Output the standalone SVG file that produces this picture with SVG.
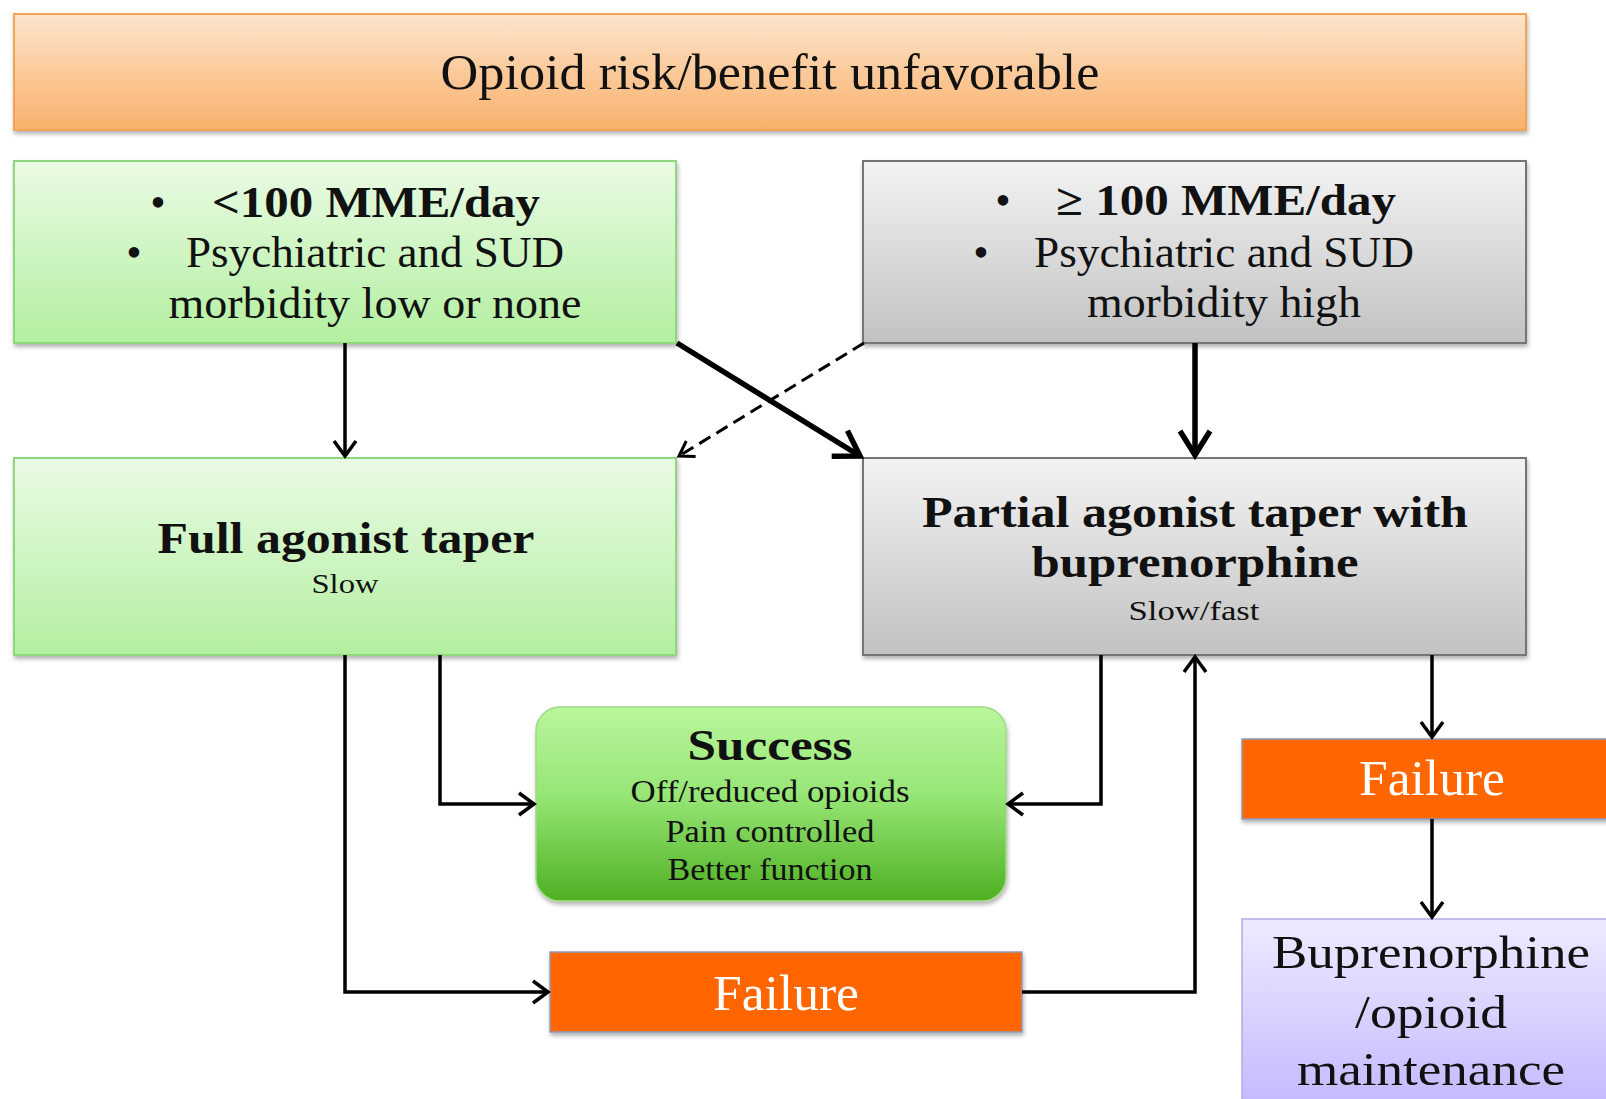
<svg xmlns="http://www.w3.org/2000/svg" width="1606" height="1099" viewBox="0 0 1606 1099">
<defs>
<linearGradient id="gOrange" x1="0" y1="0" x2="0" y2="1"><stop offset="0" stop-color="#fde4cc"/><stop offset="1" stop-color="#f9b06a"/></linearGradient>
<linearGradient id="gGreen" x1="0" y1="0" x2="0" y2="1"><stop offset="0" stop-color="#eafbe5"/><stop offset="1" stop-color="#b3efa0"/></linearGradient>
<linearGradient id="gGrey" x1="0" y1="0" x2="0" y2="1"><stop offset="0" stop-color="#f3f3f3"/><stop offset="1" stop-color="#c2c2c2"/></linearGradient>
<linearGradient id="gSuccess" x1="0" y1="0" x2="0" y2="1"><stop offset="0" stop-color="#b9f69c"/><stop offset="0.45" stop-color="#97e676"/><stop offset="1" stop-color="#4eb022"/></linearGradient>
<linearGradient id="gPurple" x1="0" y1="0" x2="0" y2="1"><stop offset="0" stop-color="#eeebff"/><stop offset="1" stop-color="#c0b6ff"/></linearGradient>
<filter id="shadow" x="-5%" y="-5%" width="115%" height="120%"><feDropShadow dx="1" dy="3" stdDeviation="2" flood-color="#000" flood-opacity="0.3"/></filter>
<marker id="ah" markerUnits="userSpaceOnUse" markerWidth="40" markerHeight="40" viewBox="-30 -20 40 40" refX="0" refY="0" orient="auto" overflow="visible">
<path d="M-15,-11 L0,0 L-15,11" fill="none" stroke="#000" stroke-width="3.5"/>
</marker>
<marker id="ahThick" markerUnits="userSpaceOnUse" markerWidth="60" markerHeight="60" viewBox="-40 -30 60 60" refX="0" refY="0" orient="auto" overflow="visible">
<path d="M-24,-15 L0,0 L-24,15" fill="none" stroke="#000" stroke-width="5.5"/>
</marker>
<marker id="ahDash" markerUnits="userSpaceOnUse" markerWidth="40" markerHeight="40" viewBox="-30 -20 40 40" refX="0" refY="0" orient="auto" overflow="visible">
<path d="M-14,-9 L0,0 L-14,9" fill="none" stroke="#000" stroke-width="3"/>
</marker>
</defs>
<style>
text{font-family:"Liberation Serif","DejaVu Serif",serif;fill:#111;text-anchor:middle}
.b{font-weight:bold}
.ban{font-size:50px}
.big{font-size:46px}
.mid{font-size:44px}
.sm{font-size:28px}
.sx{font-size:32px}
.fw{fill:#fff;font-size:50px}
.conn{fill:none;stroke:#000;stroke-width:3.5}
.thick{stroke-width:5.5}
.dash{stroke-width:3;stroke-dasharray:13 7}
</style>
<rect width="1606" height="1099" fill="#fff"/>

<g id="n-banner">
<rect x="14" y="14" width="1512" height="116" fill="url(#gOrange)" stroke="#f3a556" stroke-width="2" filter="url(#shadow)"/>
<text x="770" y="89" class="ban" textLength="659" lengthAdjust="spacingAndGlyphs">Opioid risk/benefit unfavorable</text>
</g>

<g id="n-low">
<rect x="14" y="161" width="662" height="182" fill="url(#gGreen)" stroke="#8fd77b" stroke-width="2" filter="url(#shadow)"/>
<text x="158" y="217" class="mid">•</text>
<text x="376" y="217" class="mid b" textLength="328" lengthAdjust="spacingAndGlyphs">&lt;100 MME/day</text>
<text x="134" y="267" class="mid">•</text>
<text x="375" y="267" class="mid" textLength="378" lengthAdjust="spacingAndGlyphs">Psychiatric and SUD</text>
<text x="375" y="318" class="mid" textLength="413" lengthAdjust="spacingAndGlyphs">morbidity low or none</text>
</g>

<g id="n-high">
<rect x="863" y="161" width="663" height="182" fill="url(#gGrey)" stroke="#757575" stroke-width="2" filter="url(#shadow)"/>
<text x="1003" y="215" class="mid">•</text>
<text x="1226" y="215" class="mid b" textLength="340" lengthAdjust="spacingAndGlyphs">≥ 100 MME/day</text>
<text x="981" y="267" class="mid">•</text>
<text x="1224" y="267" class="mid" textLength="380" lengthAdjust="spacingAndGlyphs">Psychiatric and SUD</text>
<text x="1224" y="317" class="mid" textLength="274" lengthAdjust="spacingAndGlyphs">morbidity high</text>
</g>

<g id="n-full">
<rect x="14" y="458" width="662" height="197" fill="url(#gGreen)" stroke="#8fd77b" stroke-width="2" filter="url(#shadow)"/>
<text x="346" y="553" class="mid b" textLength="377" lengthAdjust="spacingAndGlyphs">Full agonist taper</text>
<text x="345" y="593" class="sm" textLength="67" lengthAdjust="spacingAndGlyphs">Slow</text>
</g>

<g id="n-partial">
<rect x="863" y="458" width="663" height="197" fill="url(#gGrey)" stroke="#757575" stroke-width="2" filter="url(#shadow)"/>
<text x="1195" y="527" class="mid b" textLength="546" lengthAdjust="spacingAndGlyphs">Partial agonist taper with</text>
<text x="1195" y="577" class="mid b" textLength="327" lengthAdjust="spacingAndGlyphs">buprenorphine</text>
<text x="1194" y="620" class="sm" textLength="131" lengthAdjust="spacingAndGlyphs">Slow/fast</text>
</g>

<g id="n-success">
<rect x="536" y="707" width="470" height="194" rx="24" ry="24" fill="url(#gSuccess)" stroke="#9fd986" stroke-width="1.5" filter="url(#shadow)"/>
<text x="770" y="760" class="mid b" textLength="165" lengthAdjust="spacingAndGlyphs">Success</text>
<text x="770" y="802" class="sx" textLength="279" lengthAdjust="spacingAndGlyphs">Off/reduced opioids</text>
<text x="770" y="842" class="sx" textLength="209" lengthAdjust="spacingAndGlyphs">Pain controlled</text>
<text x="770" y="880" class="sx" textLength="205" lengthAdjust="spacingAndGlyphs">Better function</text>
</g>

<g id="n-failure1">
<rect x="550" y="952" width="472" height="80" fill="#ff6600" stroke="#8c9cc0" stroke-width="1.5" filter="url(#shadow)"/>
<text x="786" y="1010" class="fw" textLength="146" lengthAdjust="spacingAndGlyphs">Failure</text>
</g>

<g id="n-failure2">
<rect x="1242" y="739" width="380" height="80" fill="#ff6600" stroke="#8c9cc0" stroke-width="1.5" filter="url(#shadow)"/>
<text x="1432" y="795" class="fw" textLength="146" lengthAdjust="spacingAndGlyphs">Failure</text>
</g>

<g id="n-maint">
<rect x="1242" y="919" width="380" height="200" fill="url(#gPurple)" stroke="#b3aae6" stroke-width="1.5"/>
<text x="1431" y="968" class="big" textLength="318" lengthAdjust="spacingAndGlyphs">Buprenorphine</text>
<text x="1431" y="1028" class="big" textLength="152" lengthAdjust="spacingAndGlyphs">/opioid</text>
<text x="1431" y="1085" class="big" textLength="268" lengthAdjust="spacingAndGlyphs">maintenance</text>
</g>

<g id="connectors">
<path class="conn" d="M345,343 V456" marker-end="url(#ah)"/>
<path class="conn thick" d="M677,343 L860,456" marker-end="url(#ahThick)"/>
<path class="conn dash" d="M864,343 L679,456" marker-end="url(#ahDash)"/>
<path class="conn thick" d="M1195,343 V455" marker-end="url(#ahThick)"/>
<path class="conn" d="M345,655 V992 H548" marker-end="url(#ah)"/>
<path class="conn" d="M440,655 V804 H534" marker-end="url(#ah)"/>
<path class="conn" d="M1101,655 V804 H1008" marker-end="url(#ah)"/>
<path class="conn" d="M1022,992 H1195 V657" marker-end="url(#ah)"/>
<path class="conn" d="M1432,655 V737" marker-end="url(#ah)"/>
<path class="conn" d="M1432,819 V917" marker-end="url(#ah)"/>
</g>
</svg>
